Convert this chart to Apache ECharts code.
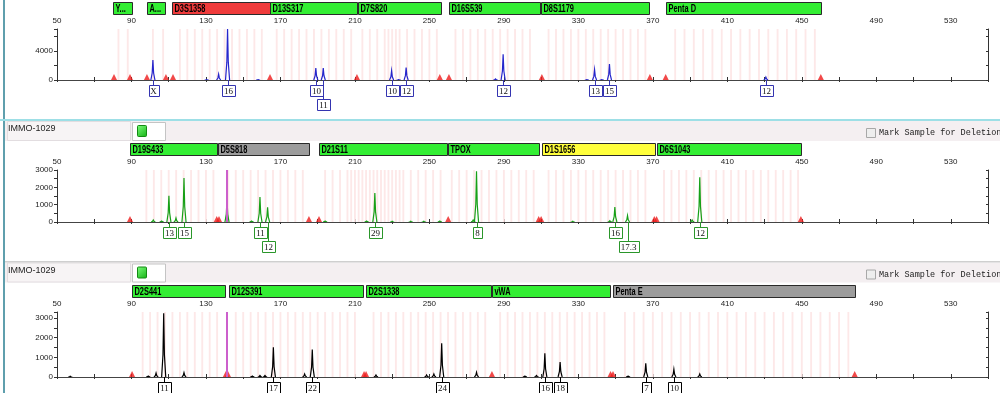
<!DOCTYPE html>
<html><head><meta charset="utf-8">
<script src="https://cdn.jsdelivr.net/npm/echarts@6/dist/echarts.min.js"></script>
<style>html,body{margin:0;padding:0;background:#fff;overflow:hidden}#c{width:1000px;height:393px}</style>
</head><body><div id="c"></div>
<script>
// ---------- DATA ----------
const xLabelTicks = [50, 90, 130, 170, 210, 250, 290, 330, 370, 410, 450, 490, 530];
const yLabelsA = [0, 4000];
const yLabelsB = [0, 1000, 2000, 3000];
const yLabelsC = [0, 1000, 2000, 3000];

// markers: [name, start bp, end bp, status]
const markersA = [
  ['Y...', 80.1, 90.3, 'ok'], ['A...', 98.3, 108.0, 'ok'], ['D3S1358', 111.9, 164.4, 'fail'],
  ['D13S317', 164.5, 210.9, 'ok'], ['D7S820', 211.4, 256.0, 'ok'], ['D16S539', 260.5, 309.3, 'ok'],
  ['D8S1179', 309.9, 368.2, 'ok'], ['Penta D', 376.8, 460.2, 'ok']
];
const markersB = [
  ['D19S433', 89.2, 135.7, 'ok'], ['D5S818', 136.4, 185.3, 'off'], ['D21S11', 190.7, 259.2, 'ok'],
  ['TPOX', 259.8, 308.8, 'ok'], ['D1S1656', 310.6, 371.4, 'warn'], ['D6S1043', 372.3, 449.5, 'ok']
];
const markersC = [
  ['D2S441', 90.4, 140.4, 'ok'], ['D12S391', 142.5, 214.5, 'ok'], ['D2S1338', 215.9, 283.0, 'ok'],
  ['vWA', 283.7, 346.9, 'ok'], ['Penta E', 348.7, 478.5, 'off']
];

// peaks: [size bp, height RFU]
const peaksA = [
  [101.5, 2750], [130.4, 60], [136.8, 800], [141.6, 7000], [158.0, 60], [189.0, 1650], [193.0, 1650],
  [229.7, 1280], [233.5, 60], [237.5, 1700], [285.5, 150], [289.6, 3540], [334.6, 60], [338.7, 1420],
  [342.6, 60], [346.7, 2200], [430.7, 400]
];
const peaksB = [
  [101.7, 120], [106.2, 60], [110.1, 1520], [113.9, 230], [118.2, 2540], [141.3, 1300], [154.5, 60],
  [159.0, 1440], [163.1, 850], [194.0, 60], [216.3, 60], [220.7, 1670], [230.0, 40], [240.0, 40],
  [247.0, 40], [255.6, 60], [273.5, 120], [275.3, 2920], [309.0, 40], [327.0, 40], [346.9, 80],
  [349.6, 870], [356.4, 370], [391.1, 120], [395.2, 2580]
];
const peaksC = [
  [57.1, 40], [99.0, 50], [103.2, 200], [107.3, 3230], [118.2, 220], [154.9, 50], [159.0, 80],
  [161.7, 80], [166.2, 1510], [183.0, 150], [187.1, 1400], [221.3, 100], [248.5, 100], [252.4, 150],
  [256.6, 1710], [275.3, 240], [301.3, 50], [307.5, 80], [312.0, 1200], [320.2, 760], [356.7, 50],
  [366.2, 700], [381.3, 390], [395.2, 150]
];

// allele calls: [size bp, label, row]
const allelesA = [
  [101.5, 'X', 1], [141.6, '16', 1], [189.0, '10', 1], [193.0, '11', 2], [229.7, '10', 1],
  [237.5, '12', 1], [289.6, '12', 1], [338.7, '13', 1], [346.7, '15', 1], [430.7, '12', 1]
];
const allelesB = [
  [110.1, '13', 1], [118.2, '15', 1], [159.0, '11', 1], [163.1, '12', 2], [220.7, '29', 1],
  [275.3, '8', 1], [349.6, '16', 1], [356.4, '17.3', 2], [395.2, '12', 1]
];
const allelesC = [
  [107.3, '11', 1], [166.2, '17', 1], [187.1, '22', 1], [256.6, '24', 1], [312.0, '16', 1],
  [320.2, '18', 1], [366.2, '7', 1], [381.3, '10', 1]
];

// red triangle flags (bp)
const flagsA = [80.6, 89.2, 98.3, 108.5, 112.3, 164.4, 211.1, 255.6, 260.5, 310.4, 368.4, 376.9, 460.2];
const flagsB = [89.2, 135.8, 137.0, 185.3, 190.7, 260.1, 308.7, 310.0, 370.8, 372.0, 449.5];
const flagsC = [90.3, 140.7, 141.8, 214.9, 216.0, 283.6, 347.3, 348.6, 478.4];

// spike (magenta) positions
const spikesA = [];
const spikesB = [141.1];
const spikesC = [141.1];

// allele bins (bp)
const binsA = [83, 88, 101.5, 107, 116, 120, 124, 128, 132, 136, 140, 144, 148, 152, 156, 160,
  168, 172, 176, 180, 184, 188, 192, 196, 200, 204, 208, 214, 218, 222, 226, 228, 230, 232, 234, 238, 242, 246, 250, 254,
  264, 268, 272, 276, 280, 284, 288, 292, 296, 300, 304, 314, 318, 322, 326, 330, 334, 338, 342, 346, 350, 354, 358, 362, 366,
  382, 387, 392, 397, 402, 407, 412, 417, 422, 427, 432, 437, 442, 447, 452, 457];
const binsB = [98, 102, 106, 110, 114, 118, 122, 126, 130, 134, 142, 146, 150, 154, 158, 162, 166, 170, 174, 178, 182,
  194, 198, 202, 206, 208, 210, 212, 214, 216, 218, 220, 222, 224, 226, 228, 230, 232, 234, 236, 240, 244, 248, 252, 256,
  262, 266, 270, 274, 278, 282, 286, 290, 294, 298, 302, 306, 314, 318, 322, 326, 330, 334, 338, 342, 346, 350, 354, 358, 362, 366,
  376, 380, 384, 388, 392, 396, 400, 404, 408, 412, 416, 420, 424, 428, 432, 436, 440, 444, 448];
const binsC = [96, 100, 104, 108, 112, 116, 120, 124, 128, 132, 136, 146, 150, 154, 158, 162, 166, 170, 174, 178, 182, 186,
  190, 194, 198, 202, 206, 210, 220, 224, 228, 232, 236, 240, 244, 248, 252, 256, 260, 264, 268, 272, 276, 280,
  288, 292, 296, 300, 304, 308, 312, 316, 320, 324, 328, 332, 336, 340, 344,
  355, 360, 365, 370, 375, 380, 385, 390, 395, 400, 405, 410, 415, 420, 425, 430, 435, 440, 445, 450, 455, 460, 465, 470, 475];

// ---------- STYLE / LAYOUT ----------
const STATUS_COLOR = { ok: '#33ee33', fail: '#ef3b3b', off: '#9c9c9c', warn: '#ffff3c' };
const AX_FONT = 'Liberation Sans, Arial, sans-serif';
const LABEL_FONT = '9px "Liberation Serif", "Times New Roman", serif';
const measureCtx = document.createElement('canvas').getContext('2d');
function textW(t) { measureCtx.font = LABEL_FONT; return measureCtx.measureText(t).width; }

const panels = [
  { top: 29, height: 51, yMax: 7000, yInt: 2000, yLabels: yLabelsA, peaks: peaksA, alleles: allelesA, flags: flagsA,
    markers: markersA, bins: binsA, spikes: spikesA, color: '#2626cc', boxColor: '#3434b0' },
  { top: 170, height: 52, yMax: 3000, yInt: 500, yLabels: yLabelsB, peaks: peaksB, alleles: allelesB, flags: flagsB,
    markers: markersB, bins: binsB, spikes: spikesB, color: '#17a017', boxColor: '#2a962a' },
  { top: 312, height: 65, yMax: 3300, yInt: 500, yLabels: yLabelsC, peaks: peaksC, alleles: allelesC, flags: flagsC,
    markers: markersC, bins: binsC, spikes: spikesC, color: '#000000', boxColor: '#000000' }
];

const grid = [], xAxis = [], yAxis = [], series = [];
panels.forEach((p, i) => {
  grid.push({ left: 57, right: 12, top: p.top, height: p.height });
  const xi = xAxis.length;
  xAxis.push({ type: 'value', gridIndex: i, min: 50, max: 550, interval: 20, position: 'top',
    axisLine: { lineStyle: { color: '#333', width: 1 } },
    axisTick: { length: 3, lineStyle: { color: '#333' } },
    axisLabel: { margin: 4, fontSize: 8, color: '#222', fontFamily: AX_FONT,
      formatter: v => xLabelTicks.indexOf(v) >= 0 ? String(v) : '' },
    splitLine: { show: false } });
  xAxis.push({ type: 'value', gridIndex: i, min: 50, max: 550, interval: 20, position: 'top',
    axisLine: { show: false }, axisTick: { inside: true, length: 2, lineStyle: { color: '#333' } },
    axisLabel: { show: false }, splitLine: { show: false } });
  xAxis.push({ type: 'value', gridIndex: i, min: 50, max: 550, position: 'bottom',
    axisLine: { lineStyle: { color: '#444', width: 1.2 } }, axisTick: { show: false },
    axisLabel: { show: false }, splitLine: { show: false } });
  const yi = yAxis.length;
  yAxis.push({ type: 'value', gridIndex: i, min: 0, max: p.yMax, interval: p.yInt,
    axisLine: { show: true, lineStyle: { color: '#333' } },
    axisTick: { show: true, length: 3, lineStyle: { color: '#333' } },
    axisLabel: { margin: 4, fontSize: 8, color: '#222', fontFamily: AX_FONT,
      formatter: v => p.yLabels.indexOf(v) >= 0 ? String(v) : '' },
    splitLine: { show: false } });
  yAxis.push({ type: 'value', gridIndex: i, min: 0, max: p.yMax, interval: p.yInt,
    axisLine: { show: false }, axisTick: { show: true, inside: true, length: 2, lineStyle: { color: '#333' } },
    axisLabel: { show: false }, splitLine: { show: false } });
  yAxis.push({ type: 'value', gridIndex: i, min: 0, max: p.yMax, position: 'right',
    axisLine: { show: true, lineStyle: { color: '#333' } }, axisTick: { show: false },
    axisLabel: { show: false }, splitLine: { show: false } });

  // bins
  series.push({ type: 'custom', xAxisIndex: xi, yAxisIndex: yi, z: 1, silent: true,
    data: p.bins.map(b => [b, 0]),
    renderItem: (params, api) => {
      const a = api.coord([api.value(0) - 0.5, p.yMax]);
      const b = api.coord([api.value(0) + 0.5, 0]);
      return { type: 'rect', shape: { x: a[0], y: a[1], width: b[0] - a[0], height: b[1] - a[1] },
        style: { fill: '#fde8e8' } };
    } });
  // spikes
  series.push({ type: 'line', xAxisIndex: xi, yAxisIndex: yi, z: 2, data: [], silent: true,
    markLine: { symbol: 'none', silent: true, label: { show: false },
      lineStyle: { color: '#cc5fcc', width: 2, type: 'solid' },
      data: p.spikes.map(s => ({ xAxis: s })) } });
  // peaks
  series.push({ type: 'custom', xAxisIndex: xi, yAxisIndex: yi, z: 3, silent: true, clip: true,
    data: p.peaks.map(k => [k[0], k[1]]),
    renderItem: (params, api) => {
      const x = api.value(0), h = api.value(1), w = 1.1;
      return { type: 'polyline', shape: { points: [api.coord([x - w, 0]), api.coord([x - w * 0.35, h * 0.35]), api.coord([x, h]), api.coord([x + w * 0.35, h * 0.35]), api.coord([x + w, 0])] },
        style: { stroke: p.color, fill: null, lineWidth: 1.2 } };
    } });
  // red flags
  series.push({ type: 'scatter', xAxisIndex: xi, yAxisIndex: yi, z: 4, silent: true,
    symbol: 'triangle', symbolSize: [6, 6], symbolOffset: [0, -3],
    itemStyle: { color: '#ee1b1b' }, data: p.flags.map(f => [f, 0]) });
  // allele labels
  series.push({ type: 'custom', xAxisIndex: xi, yAxisIndex: yi, z: 5, silent: true, clip: false,
    data: p.alleles.map(L => [L[0], 0]),
    renderItem: (params, api) => {
      const L = p.alleles[params.dataIndex];
      const b = api.coord([L[0], 0]);
      const x = Math.round(b[0]) + 0.5;
      const top = Math.round(b[1]) + (L[2] === 2 ? 19 : 5) + 0.5;
      const w = Math.round(textW(L[1])) + 4;
      return { type: 'group', children: [
        { type: 'line', shape: { x1: x, y1: b[1], x2: x, y2: top }, style: { stroke: p.boxColor, lineWidth: 1 } },
        { type: 'rect', shape: { x: Math.round(x - w / 2) + 0.5, y: top, width: w, height: 11 },
          style: { fill: '#fff', stroke: p.boxColor, lineWidth: 1 } },
        { type: 'text', x: x, y: top + 6, style: { text: L[1], font: LABEL_FONT, fill: '#111', align: 'center', verticalAlign: 'middle' } }
      ] };
    } });
  // marker bars
  series.push({ type: 'custom', xAxisIndex: xi, yAxisIndex: yi, z: 5, silent: true, clip: false,
    data: p.markers.map(m => [m[1], m[2]]),
    renderItem: (params, api) => {
      const m = p.markers[params.dataIndex];
      const s = api.coord([m[1], p.yMax]);
      const e = api.coord([m[2], p.yMax]);
      const top = Math.round(s[1]) - 27 + 0.5;
      const x0 = Math.round(s[0]) + 0.5, x1 = Math.round(e[0]) + 0.5;
      return { type: 'group', children: [
        { type: 'rect', shape: { x: x0, y: top, width: x1 - x0, height: 12 },
          style: { fill: STATUS_COLOR[m[3]], stroke: '#2a2a2a', lineWidth: 1 } },
        { type: 'text', x: x0 + 2, y: top + 6.5, scaleX: 0.74,
          style: { text: m[0], font: 'bold 10px "Liberation Sans", Arial, sans-serif', fill: '#000', verticalAlign: 'middle' } }
      ] };
    } });
});

// ---------- WINDOW CHROME ----------
function header(y) {
  return [
    { type: 'rect', shape: { x: 5, y: y, width: 995, height: 20 }, style: { fill: '#f4eff1' }, z: -1 },
    { type: 'rect', shape: { x: 7.5, y: y + 0.5, width: 123, height: 19 }, style: { fill: '#f7f4f5', stroke: '#e2dde0' }, z: -1 },
    { type: 'text', x: 8, y: y + 8, style: { text: 'IMMO-1029', font: '9px "Liberation Sans", Arial, sans-serif', fill: '#222', verticalAlign: 'middle' } },
    { type: 'rect', shape: { x: 132.5, y: y + 1.5, width: 33, height: 18 }, style: { fill: '#fff', stroke: '#c4c4c4' } },
    { type: 'rect', shape: { x: 137.5, y: y + 4.5, width: 9, height: 11, r: 1 },
      style: { fill: new echarts.graphic.LinearGradient(0, 0, 1, 1, [{ offset: 0, color: '#7dff7d' }, { offset: 1, color: '#12b012' }]), stroke: '#138a13' } },
    { type: 'rect', shape: { x: 866.5, y: y + 7.5, width: 9, height: 9 }, style: { fill: '#eeeeee', stroke: '#a8a8a8' } },
    { type: 'text', x: 879, y: y + 12, style: { text: 'Mark Sample for Deletion', font: '8.5px "Liberation Mono", "DejaVu Sans Mono", monospace', fill: '#222', verticalAlign: 'middle' } }
  ];
}
const graphic = [
  { type: 'rect', shape: { x: 3, y: 0, width: 2, height: 393 }, style: { fill: '#5f9fad' } },
  { type: 'rect', shape: { x: 0, y: 119, width: 1000, height: 2 }, style: { fill: '#9ddfe6' } },
  ...header(121),
  { type: 'rect', shape: { x: 5, y: 261, width: 995, height: 1.5 }, style: { fill: '#cfcfcf' } },
  ...header(262.5)
];

const chart = echarts.init(document.getElementById('c'), null, { renderer: 'canvas' });
chart.setOption({ animation: false, backgroundColor: '#fff', grid, xAxis, yAxis, series, graphic });
</script></body></html>
